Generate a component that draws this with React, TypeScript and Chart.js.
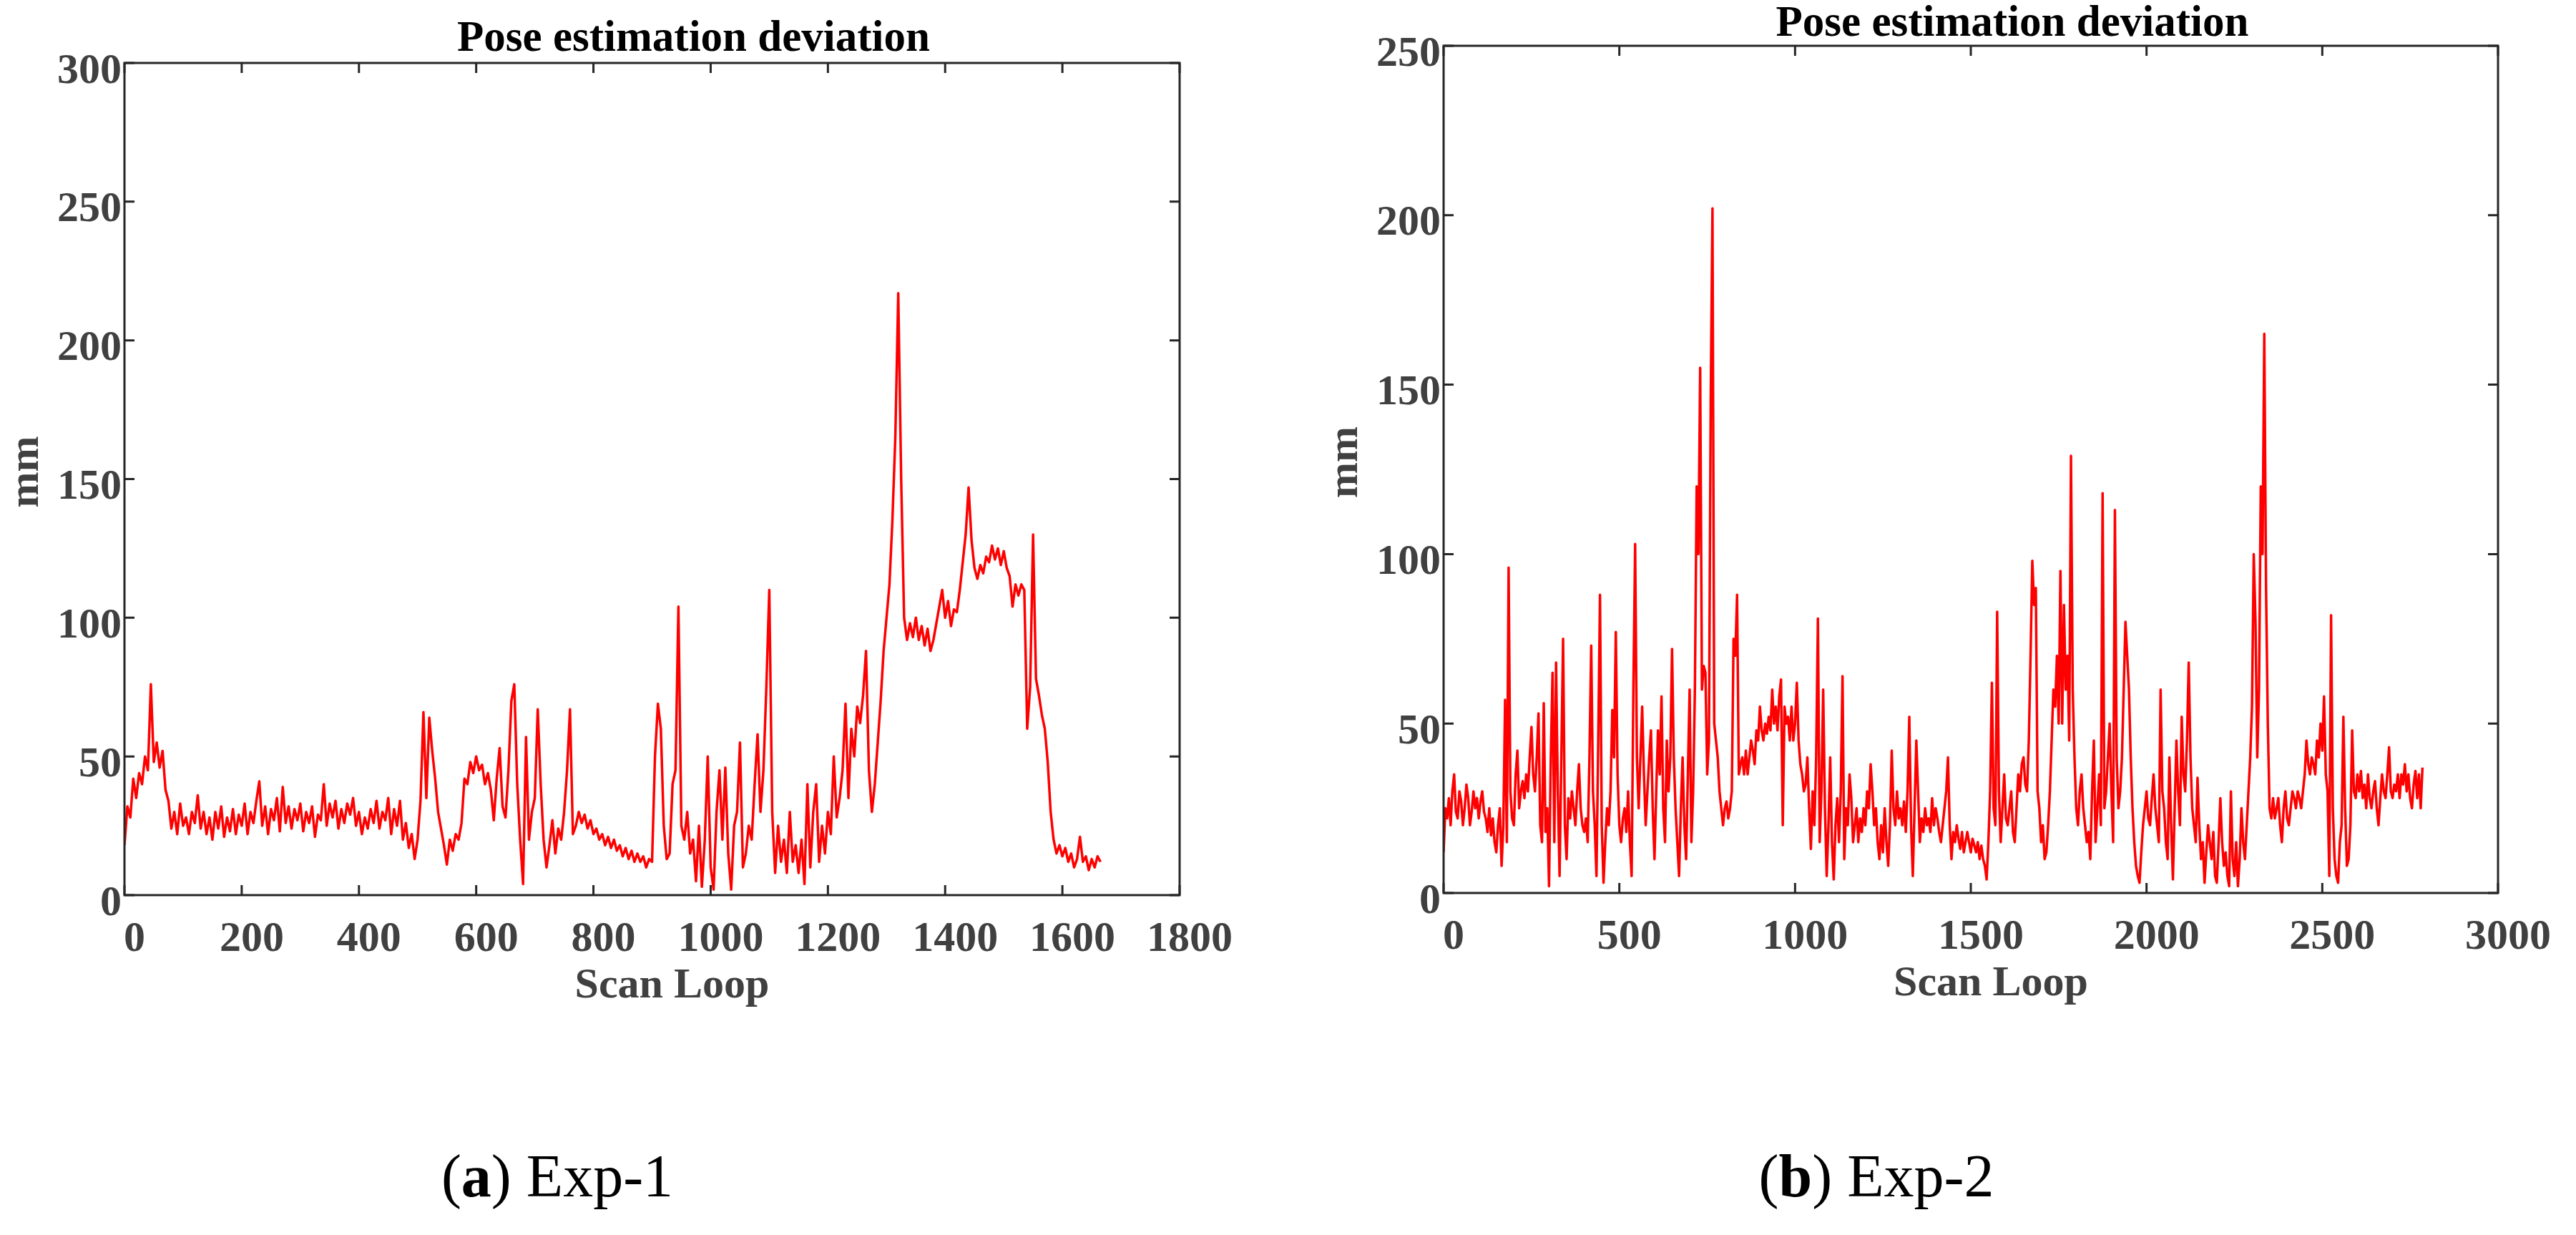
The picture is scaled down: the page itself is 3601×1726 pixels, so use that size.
import React, { useEffect, useRef } from 'react';
import { Chart, registerables } from 'chart.js';

Chart.register(...registerables);

const FONT = "'Liberation Serif', 'Times New Roman', serif";

// ---------- shared texts ----------
const plotTitle = 'Pose estimation deviation';
const xAxisTitle = 'Scan Loop';
const yAxisTitle = 'mm';

// ---------- Exp-1 (one sample every 5 scan loops) ----------
const exp1Step = 5;
const exp1Deviation = [
  18, 32, 28, 42, 35, 44, 40, 50, 45, 76, // 0-45
  48, 55, 46, 52, 38, 34, 24, 30, 22, 33, // 50-95
  25, 28, 22, 30, 26, 36, 24, 30, 22, 28, // 100-145
  20, 30, 24, 32, 21, 28, 23, 31, 22, 29, // 150-195
  25, 33, 22, 30, 26, 34, 41, 25, 32, 22, // 200-245
  31, 27, 35, 23, 39, 26, 32, 24, 31, 27, // 250-295
  33, 23, 30, 26, 32, 21, 29, 27, 40, 25, // 300-345
  33, 28, 34, 24, 31, 26, 33, 29, 35, 25, // 350-395
  30, 22, 28, 24, 31, 26, 34, 24, 30, 27, // 400-445
  35, 22, 31, 25, 34, 20, 26, 17, 22, 13, // 450-495
  20, 34, 66, 35, 64, 52, 42, 30, 24, 18, // 500-545
  11, 20, 16, 22, 20, 26, 42, 40, 48, 44, // 550-595
  50, 45, 47, 40, 44, 38, 27, 42, 53, 32, // 600-645
  28, 45, 70, 76, 40, 20, 4, 57, 20, 30, // 650-695
  35, 67, 40, 20, 10, 18, 27, 15, 24, 20, // 700-745
  30, 45, 67, 22, 25, 30, 26, 29, 24, 27, // 750-795
  22, 24, 20, 22, 18, 21, 17, 20, 16, 18, // 800-845
  14, 17, 13, 16, 12, 15, 12, 14, 10, 13, // 850-895
  12, 50, 69, 60, 25, 13, 15, 40, 45, 104, // 900-945
  25, 20, 30, 15, 20, 5, 25, 3, 20, 50, // 950-995
  10, 2, 30, 45, 20, 46, 15, 2, 25, 30, // 1000-1045
  55, 10, 15, 25, 20, 40, 58, 30, 45, 75, // 1050-1095
  110, 30, 8, 25, 12, 20, 8, 30, 12, 18, // 1100-1145
  8, 20, 4, 40, 10, 30, 40, 12, 25, 15, // 1150-1195
  30, 22, 50, 28, 35, 45, 69, 35, 60, 50, // 1200-1245
  68, 62, 72, 88, 45, 30, 40, 55, 70, 88, // 1250-1295
  100, 112, 135, 165, 217, 150, 100, 92, 98, 93, // 1300-1345
  100, 92, 97, 90, 96, 88, 92, 98, 104, 110, // 1350-1395
  100, 106, 97, 103, 102, 110, 120, 130, 147, 128, // 1400-1445
  118, 114, 119, 116, 122, 120, 126, 121, 125, 119, // 1450-1495
  124, 118, 115, 104, 112, 108, 112, 110, 60, 75, // 1500-1545
  130, 78, 72, 65, 60, 48, 30, 20, 15, 18, // 1550-1595
  14, 17, 12, 15, 10, 13, 21, 12, 14, 9, // 1600-1645
  13, 10, 14, 12, // 1650-1665
];
const exp1XTicks = [0, 200, 400, 600, 800, 1000, 1200, 1400, 1600, 1800];
const exp1YTicks = [0, 50, 100, 150, 200, 250, 300];

// ---------- Exp-2 (one sample every 5 scan loops) ----------
const exp2Step = 5;
const exp2Deviation = [
  12, 25, 22, 28, 20, 30, 35, 24, 22, 30, // 0-45
  27, 20, 25, 32, 28, 20, 24, 30, 25, 28, // 50-95
  22, 27, 30, 24, 22, 18, 25, 17, 22, 15, // 100-145
  12, 20, 25, 8, 20, 57, 15, 96, 30, 22, // 150-195
  20, 35, 42, 25, 30, 33, 28, 35, 30, 40, // 200-245
  49, 35, 30, 40, 53, 20, 15, 56, 18, 25, // 250-295
  2, 40, 65, 15, 68, 30, 5, 40, 75, 20, // 300-345
  10, 28, 22, 30, 25, 20, 30, 38, 25, 20, // 350-395
  18, 22, 15, 40, 73, 30, 20, 5, 45, 88, // 400-445
  20, 3, 15, 25, 20, 30, 54, 40, 77, 35, // 450-495
  20, 15, 22, 25, 18, 30, 15, 5, 60, 103, // 500-545
  40, 25, 40, 55, 35, 20, 30, 40, 48, 25, // 550-595
  10, 30, 48, 35, 58, 25, 15, 45, 30, 40, // 600-645
  72, 40, 25, 15, 5, 25, 40, 20, 10, 35, // 650-695
  60, 15, 30, 60, 120, 100, 155, 60, 67, 65, // 700-745
  35, 45, 145, 202, 50, 45, 40, 30, 25, 20, // 750-795
  25, 27, 22, 25, 30, 75, 70, 88, 35, 38, // 800-845
  40, 35, 42, 35, 40, 45, 42, 38, 48, 45, // 850-895
  55, 48, 45, 50, 47, 52, 48, 60, 50, 55, // 900-945
  48, 58, 63, 20, 55, 50, 52, 45, 55, 45, // 950-995
  50, 62, 45, 38, 35, 30, 32, 40, 25, 13, // 1000-1045
  30, 20, 40, 81, 15, 30, 60, 25, 5, 20, // 1050-1095
  40, 15, 4, 20, 28, 15, 30, 64, 10, 25, // 1100-1145
  20, 35, 28, 15, 20, 25, 15, 22, 18, 25, // 1150-1195
  20, 30, 25, 38, 30, 20, 25, 15, 10, 20, // 1200-1245
  12, 25, 15, 8, 20, 42, 25, 20, 30, 22, // 1250-1295
  25, 20, 27, 18, 30, 52, 20, 5, 25, 45, // 1300-1345
  30, 15, 22, 18, 25, 20, 22, 18, 28, 20, // 1350-1395
  25, 22, 18, 15, 20, 25, 30, 40, 20, 10, // 1400-1445
  18, 15, 20, 16, 13, 18, 12, 15, 18, 15, // 1450-1495
  12, 16, 14, 12, 15, 10, 14, 10, 8, 4, // 1500-1545
  15, 30, 62, 25, 20, 83, 30, 15, 25, 35, // 1550-1595
  22, 20, 25, 30, 18, 15, 25, 35, 30, 38, // 1600-1645
  40, 32, 30, 45, 70, 98, 85, 90, 30, 25, // 1650-1695
  15, 20, 10, 12, 20, 30, 45, 60, 55, 70, // 1700-1745
  50, 95, 50, 85, 60, 70, 45, 129, 60, 40, // 1750-1795
  25, 20, 30, 35, 25, 20, 15, 18, 10, 30, // 1800-1845
  45, 15, 25, 35, 20, 118, 25, 30, 40, 50, // 1850-1895
  30, 15, 113, 40, 25, 30, 40, 60, 80, 70, // 1900-1945
  60, 40, 25, 15, 8, 5, 3, 12, 20, 25, // 1950-1995
  30, 22, 20, 28, 35, 25, 20, 15, 60, 30, // 2000-2045
  25, 15, 10, 40, 20, 4, 25, 45, 30, 20, // 2050-2095
  52, 35, 30, 45, 68, 40, 25, 20, 15, 34, // 2100-2145
  20, 10, 15, 3, 12, 20, 15, 10, 18, 5, // 2150-2195
  3, 15, 28, 15, 8, 12, 5, 2, 30, 10, // 2200-2245
  5, 15, 2, 10, 25, 15, 10, 20, 30, 40, // 2250-2295
  55, 100, 80, 40, 60, 120, 100, 165, 90, 50, // 2300-2345
  25, 22, 28, 22, 25, 28, 20, 15, 25, 30, // 2350-2395
  22, 20, 25, 30, 28, 25, 30, 28, 25, 30, // 2400-2445
  35, 45, 38, 35, 40, 38, 35, 45, 40, 50, // 2450-2495
  42, 58, 35, 30, 5, 82, 25, 10, 5, 3, // 2500-2545
  15, 20, 52, 25, 8, 10, 20, 48, 30, 28, // 2550-2595
  35, 30, 36, 28, 32, 25, 35, 28, 25, 30, // 2600-2645
  33, 25, 20, 28, 35, 30, 28, 35, 43, 30, // 2650-2695
  28, 32, 30, 35, 28, 35, 32, 38, 30, 35, // 2700-2745
  28, 25, 32, 36, 28, 35, 25, 37, // 2750-2785
];
const exp2XTicks = [0, 500, 1000, 1500, 2000, 2500, 3000];
const exp2YTicks = [0, 50, 100, 150, 200, 250];

// ---------- plugin: MATLAB-like box, inward ticks and axis texts ----------
const matlabFrame = {
  id: 'matlabFrame',
  afterDraw(chart: any, _args: any, opts: any) {
    const { ctx, chartArea: a, scales } = chart;
    const xs = scales.x;
    const ys = scales.y;
    ctx.save();
    ctx.strokeStyle = '#262626';
    ctx.lineWidth = 3;
    ctx.lineCap = 'butt';
    ctx.strokeRect(a.left, a.top, a.right - a.left, a.bottom - a.top);
    const L = 14;
    ctx.beginPath();
    xs.ticks.forEach((t: any) => {
      const p = xs.getPixelForValue(t.value);
      ctx.moveTo(p, a.bottom);
      ctx.lineTo(p, a.bottom - L);
      ctx.moveTo(p, a.top);
      ctx.lineTo(p, a.top + L);
    });
    ys.ticks.forEach((t: any) => {
      const p = ys.getPixelForValue(t.value);
      ctx.moveTo(a.left, p);
      ctx.lineTo(a.left + L, p);
      ctx.moveTo(a.right, p);
      ctx.lineTo(a.right - L, p);
    });
    ctx.stroke();

    const cx = (a.left + a.right) / 2;
    const cy = (a.top + a.bottom) / 2;
    ctx.textAlign = 'center';
    ctx.textBaseline = 'alphabetic';
    ctx.fillStyle = '#000000';
    ctx.font = `bold 61px ${FONT}`;
    ctx.fillText(opts.title, cx + opts.titleShift, a.top - opts.titleGap);

    ctx.fillStyle = '#404040';
    ctx.font = `bold 60px ${FONT}`;
    ctx.fillText(opts.xLabel, cx + opts.xLabelShift, a.bottom + opts.xLabelGap);

    ctx.save();
    ctx.translate(a.left - opts.yLabelGap, cy - 10);
    ctx.rotate(-Math.PI / 2);
    ctx.textBaseline = 'middle';
    ctx.fillText(opts.yLabel, 0, 0);
    ctx.restore();
    ctx.restore();
  },
};

type Area = { left: number; top: number; right: number; bottom: number };

function DeviationChart(props: {
  values: number[];
  step: number;
  xTicks: number[];
  yTicks: number[];
  left: number;
  width: number;
  height: number;
  area: Area;
  titleGap: number;
}) {
  const ref = useRef<HTMLCanvasElement | null>(null);
  const { values, step, xTicks, yTicks, left, width, height, area, titleGap } = props;

  useEffect(() => {
    if (!ref.current) return;
    const points = values.map((v, i) => ({ x: i * step, y: v }));
    const tickFont = { family: FONT, size: 60, weight: 'bold' as const };
    const chart = new Chart(ref.current, {
      type: 'line',
      data: {
        datasets: [
          {
            data: points,
            borderColor: '#ff0000',
            backgroundColor: '#ff0000',
            borderWidth: 3.5,
            pointRadius: 0,
            tension: 0,
            borderJoinStyle: 'round',
            fill: false,
          },
        ],
      },
      options: {
        animation: false,
        responsive: false,
        maintainAspectRatio: false,
        events: [],
        layout: {
          autoPadding: false,
          padding: { left: 0, top: area.top, right: width - area.right, bottom: 0 },
        },
        plugins: {
          legend: { display: false },
          title: { display: false },
          tooltip: { enabled: false },
          matlabFrame: {
            title: plotTitle,
            xLabel: xAxisTitle,
            yLabel: yAxisTitle,
            titleShift: 58,
            titleGap,
            xLabelShift: 28,
            xLabelGap: 143,
            yLabelGap: 137,
          },
        } as any,
        scales: {
          x: {
            type: 'linear',
            min: xTicks[0],
            max: xTicks[xTicks.length - 1],
            grid: { display: false, drawTicks: false },
            border: { display: false },
            afterBuildTicks: (s: any) => {
              s.ticks = xTicks.map((v) => ({ value: v }));
            },
            afterFit: (s: any) => {
              s.height = height - area.bottom;
              s.paddingLeft = 0;
              s.paddingRight = 0;
            },
            ticks: {
              font: tickFont,
              color: '#404040',
              padding: 26,
              labelOffset: 14,
              maxRotation: 0,
              minRotation: 0,
              autoSkip: false,
              callback: (v: any) => String(v),
            },
          },
          y: {
            type: 'linear',
            min: yTicks[0],
            max: yTicks[yTicks.length - 1],
            grid: { display: false, drawTicks: false },
            border: { display: false },
            afterBuildTicks: (s: any) => {
              s.ticks = yTicks.map((v) => ({ value: v }));
            },
            afterFit: (s: any) => {
              s.width = area.left;
              s.paddingTop = 0;
              s.paddingBottom = 0;
            },
            ticks: {
              font: tickFont,
              color: '#404040',
              padding: 4,
              labelOffset: 12,
              autoSkip: false,
              callback: (v: any) => String(v),
            },
          },
        },
      },
      plugins: [matlabFrame as any],
    });
    return () => chart.destroy();
  }, []);

  return (
    <canvas
      ref={ref}
      width={width}
      height={height}
      style={{ position: 'absolute', left, top: 0, width, height }}
    />
  );
}

const captionStyle: React.CSSProperties = {
  position: 'absolute',
  top: 1602,
  width: 1000,
  textAlign: 'center',
  fontFamily: FONT,
  fontSize: 84,
  lineHeight: '84px',
  color: '#000',
  whiteSpace: 'nowrap',
};

export default function App() {
  return (
    <div
      style={{
        position: 'absolute',
        left: 0,
        top: 0,
        width: 3601,
        height: 1726,
        background: '#ffffff',
        overflow: 'hidden',
      }}
    >
      <DeviationChart
        values={exp1Deviation}
        step={exp1Step}
        xTicks={exp1XTicks}
        yTicks={exp1YTicks}
        left={0}
        width={1800}
        height={1450}
        area={{ left: 174, top: 88, right: 1649, bottom: 1251 }}
        titleGap={17}
      />
      <DeviationChart
        values={exp2Deviation}
        step={exp2Step}
        xTicks={exp2XTicks}
        yTicks={exp2YTicks}
        left={1800}
        width={1801}
        height={1450}
        area={{ left: 218, top: 64, right: 1692, bottom: 1248 }}
        titleGap={14}
      />
      <div style={{ ...captionStyle, left: 779 - 500 }}>
        (<b>a</b>) Exp-1
      </div>
      <div style={{ ...captionStyle, left: 2623 - 500 }}>
        (<b>b</b>) Exp-2
      </div>
    </div>
  );
}
